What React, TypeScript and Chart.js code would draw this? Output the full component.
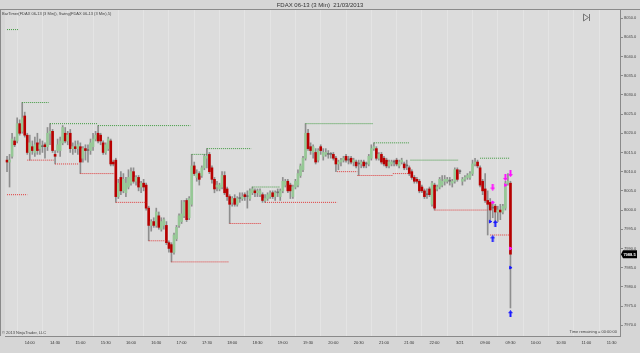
import React, { useEffect, useRef } from "react";
import { Chart, registerables } from "chart.js";
Chart.register(...registerables);

// ---- candle data (3-min bars, index 0 = 13:33 on 3/20) ----
const opens = [
  8013.0, 8012.5, 8014.0, 8018.0, 8018.0, 8022.5, 8020.5, 8024.5, 8019.5, 8015.0,
  8016.5, 8015.0, 8017.5, 8016.0, 8016.5, 8017.0, 8016.5, 8020.0, 8020.5, 8014.5,
  8015.5, 8015.5, 8017.5, 8020.0, 8018.0, 8020.0, 8016.0, 8016.5, 8016.0, 8016.5,
  8013.5, 8016.0, 8015.5, 8015.5, 8016.5, 8018.5, 8020.0, 8019.5, 8017.5, 8015.0,
  8016.0, 8018.0, 8012.5, 8013.0, 8003.5, 8008.5, 8005.0, 8004.5, 8006.0, 8007.0,
  8010.0, 8007.5, 8008.5, 8006.0, 8007.0, 8006.5, 8000.5, 7996.0, 7997.0, 7996.0,
  7998.5, 7995.0, 7996.0, 7996.0, 7991.5, 7991.0, 7989.0, 7992.5, 7996.0, 7997.0,
  7998.5, 8002.5, 7998.0, 8001.5, 8011.5, 8008.5, 8009.5, 8009.0, 8011.0, 8013.5,
  8014.5, 8011.0, 8008.0, 8006.0, 8005.5, 8006.0, 8009.0, 8005.5, 8003.5, 8002.0,
  8003.0, 8001.5, 8003.0, 8003.0, 8004.0, 8003.5, 8003.0, 8004.5, 8005.0, 8004.5,
  8004.0, 8004.0, 8002.5, 8003.0, 8003.5, 8004.5, 8003.5, 8004.5, 8003.5, 8005.0,
  8006.5, 8007.5, 8006.5, 8003.5, 8006.0, 8006.5, 8009.0, 8010.5, 8013.5, 8020.0,
  8016.5, 8015.0, 8015.0, 8013.0, 8016.5, 8014.0, 8014.5, 8014.5, 8014.5, 8014.5,
  8013.5, 8012.0, 8012.5, 8013.0, 8014.0, 8013.0, 8013.5, 8012.5, 8012.5, 8012.0,
  8012.0, 8012.5, 8012.0, 8012.0, 8013.5, 8016.0, 8016.0, 8013.5, 8014.5, 8013.5,
  8013.0, 8011.5, 8012.0, 8012.5, 8013.0, 8011.5, 8012.5, 8012.0, 8011.5, 8011.0,
  8010.0, 8008.5, 8008.0, 8007.5, 8006.0, 8005.0, 8004.0, 8005.5, 8001.5, 8006.5,
  8005.5, 8006.0, 8006.5, 8007.5, 8007.5, 8007.5, 8007.0, 8007.5, 8010.5, 8010.0,
  8007.5, 8008.0, 8008.5, 8008.5, 8009.5, 8012.0, 8012.5, 8011.0, 8007.5, 8005.5,
  8002.5, 8002.0, 8000.5, 8001.0, 7999.5, 8000.0, 7999.5, 8000.5, 8007.0, 8007.0,
];
const highs = [
  8014.0, 8014.5, 8020.0, 8019.0, 8024.0, 8023.5, 8028.0, 8025.5, 8020.0, 8019.5,
  8018.0, 8019.0, 8020.0, 8018.5, 8018.0, 8017.5, 8021.5, 8022.5, 8021.0, 8015.5,
  8018.5, 8019.0, 8022.0, 8021.5, 8020.5, 8021.0, 8017.5, 8018.0, 8018.0, 8017.5,
  8016.5, 8017.0, 8017.0, 8018.5, 8020.0, 8020.5, 8022.0, 8020.0, 8018.0, 8017.5,
  8019.0, 8018.5, 8013.0, 8013.5, 8008.0, 8010.0, 8009.5, 8008.5, 8010.5, 8011.0,
  8011.0, 8009.0, 8009.0, 8007.5, 8008.0, 8007.0, 8001.0, 7997.5, 7998.0, 8000.5,
  7999.5, 7998.0, 7998.0, 7997.0, 7992.0, 7991.5, 7994.0, 7996.0, 7999.0, 8002.5,
  8002.5, 8003.0, 8003.5, 8014.5, 8012.5, 8010.5, 8010.0, 8011.5, 8014.5, 8016.0,
  8015.0, 8011.5, 8008.5, 8007.5, 8007.0, 8010.0, 8010.0, 8006.0, 8004.0, 8003.5,
  8004.0, 8003.5, 8004.5, 8004.5, 8004.5, 8005.0, 8005.5, 8006.0, 8005.5, 8005.5,
  8005.5, 8004.5, 8004.0, 8004.5, 8005.0, 8005.0, 8005.0, 8005.5, 8005.5, 8008.5,
  8008.0, 8008.0, 8007.0, 8006.5, 8008.0, 8010.5, 8012.0, 8014.0, 8022.5, 8021.0,
  8017.5, 8017.0, 8016.0, 8016.0, 8017.0, 8016.0, 8016.0, 8015.5, 8015.0, 8015.0,
  8014.0, 8013.0, 8013.5, 8014.0, 8014.5, 8014.0, 8014.0, 8013.5, 8013.0, 8013.0,
  8013.0, 8013.0, 8012.5, 8014.5, 8017.0, 8017.5, 8016.5, 8015.0, 8015.0, 8014.0,
  8013.5, 8013.0, 8013.0, 8013.0, 8013.5, 8013.0, 8013.5, 8012.5, 8013.0, 8011.5,
  8010.5, 8009.0, 8008.5, 8008.0, 8006.5, 8005.5, 8005.5, 8006.0, 8007.5, 8007.0,
  8006.5, 8008.5, 8009.0, 8009.0, 8008.5, 8008.5, 8008.0, 8011.0, 8011.0, 8010.5,
  8008.5, 8009.0, 8009.5, 8010.0, 8013.0, 8013.5, 8013.0, 8011.5, 8008.0, 8009.5,
  8005.0, 8003.0, 8002.0, 8001.5, 8001.0, 8001.5, 8001.5, 8007.5, 8009.5, 8007.5,
];
const lows = [
  8010.0, 8006.0, 8013.5, 8016.5, 8017.5, 8019.5, 8020.0, 8019.0, 8014.5, 8013.0,
  8014.5, 8014.0, 8014.5, 8014.5, 8015.0, 8013.5, 8015.5, 8017.0, 8015.0, 8012.0,
  8015.0, 8014.0, 8017.0, 8017.5, 8017.0, 8015.0, 8014.5, 8015.0, 8014.5, 8009.5,
  8012.5, 8013.0, 8012.5, 8014.5, 8015.5, 8018.0, 8017.5, 8017.0, 8014.5, 8014.5,
  8015.5, 8011.5, 8011.5, 8002.0, 8003.0, 8004.0, 8004.5, 8003.5, 8005.5, 8006.5,
  8007.0, 8006.5, 8005.0, 8004.5, 8005.0, 8000.0, 7992.0, 7994.5, 7995.5, 7995.5,
  7995.0, 7994.5, 7995.0, 7991.0, 7989.0, 7986.5, 7988.5, 7992.0, 7995.5, 7996.5,
  7998.0, 7997.0, 7997.5, 8001.0, 8009.0, 8007.5, 8006.5, 8008.5, 8010.5, 8011.0,
  8009.5, 8007.0, 8004.5, 8005.0, 8005.0, 8005.5, 8004.0, 8002.5, 7996.5, 8001.0,
  8001.0, 8001.0, 8002.0, 8002.5, 8002.5, 8000.5, 8002.5, 8004.0, 8003.5, 8003.5,
  8003.5, 8002.0, 8002.0, 8002.5, 8003.0, 8003.0, 8002.5, 8003.5, 8002.5, 8004.5,
  8006.0, 8004.5, 8003.0, 8003.0, 8005.5, 8006.0, 8008.5, 8010.0, 8013.0, 8015.5,
  8014.5, 8013.5, 8012.0, 8012.5, 8014.5, 8013.0, 8014.0, 8013.5, 8013.5, 8013.0,
  8010.0, 8010.5, 8011.5, 8012.5, 8012.5, 8012.0, 8012.0, 8011.5, 8011.0, 8009.0,
  8011.0, 8011.0, 8011.0, 8011.5, 8013.0, 8015.5, 8013.0, 8013.0, 8012.0, 8011.5,
  8011.0, 8011.0, 8011.5, 8011.5, 8011.5, 8011.0, 8012.0, 8010.5, 8010.5, 8009.0,
  8008.0, 8007.0, 8007.0, 8004.5, 8004.5, 8003.0, 8003.0, 8003.5, 8001.0, 8000.0,
  8005.0, 8005.5, 8006.0, 8006.5, 8007.0, 8006.5, 8006.0, 8007.0, 8007.5, 8009.5,
  8006.5, 8007.5, 8008.0, 8008.0, 8009.0, 8011.5, 8011.0, 8006.0, 8004.0, 8002.0,
  7993.5, 7997.5, 7998.0, 7996.5, 7997.0, 7997.5, 7999.0, 8000.0, 8006.5, 7974.5,
];
const closes = [
  8012.5, 8013.0, 8018.5, 8017.0, 8022.5, 8020.0, 8024.0, 8019.5, 8015.0, 8017.5,
  8015.5, 8017.0, 8015.5, 8017.0, 8016.5, 8016.5, 8020.0, 8020.5, 8015.5, 8014.0,
  8017.0, 8018.0, 8021.5, 8018.0, 8019.5, 8016.0, 8016.5, 8016.0, 8017.0, 8012.5,
  8016.0, 8015.5, 8015.5, 8017.5, 8018.5, 8019.5, 8018.0, 8018.0, 8015.0, 8017.0,
  8018.5, 8012.0, 8012.0, 8003.5, 8007.0, 8005.0, 8008.0, 8007.0, 8008.5, 8010.0,
  8007.5, 8008.5, 8006.0, 8007.0, 8006.0, 8000.5, 7996.0, 7997.0, 7996.0, 7999.5,
  7995.5, 7997.0, 7997.5, 7991.5, 7990.0, 7989.0, 7993.5, 7995.5, 7998.5, 7999.0,
  8002.0, 7997.5, 8003.0, 8011.5, 8009.5, 8009.5, 8008.0, 8011.0, 8014.0, 8014.0,
  8010.0, 8008.0, 8005.5, 8006.5, 8006.5, 8009.0, 8004.5, 8003.5, 8001.5, 8003.0,
  8001.5, 8003.0, 8003.0, 8003.5, 8003.5, 8003.5, 8005.0, 8005.5, 8004.5, 8005.0,
  8005.0, 8002.5, 8003.0, 8004.0, 8004.5, 8003.5, 8004.5, 8004.5, 8005.0, 8007.5,
  8007.5, 8005.0, 8005.0, 8006.0, 8007.5, 8009.5, 8011.5, 8013.5, 8020.0, 8016.0,
  8015.5, 8016.5, 8012.5, 8015.5, 8015.5, 8015.0, 8015.0, 8014.5, 8014.5, 8013.5,
  8012.0, 8012.5, 8013.0, 8013.5, 8013.0, 8013.0, 8012.5, 8013.0, 8011.5, 8012.0,
  8012.5, 8011.5, 8012.0, 8014.0, 8016.0, 8016.5, 8013.5, 8014.5, 8012.5, 8012.0,
  8011.5, 8012.5, 8012.5, 8012.5, 8012.0, 8012.5, 8013.0, 8011.0, 8011.5, 8009.5,
  8008.5, 8007.5, 8007.5, 8005.0, 8005.0, 8003.5, 8004.0, 8004.0, 8007.0, 8000.5,
  8006.0, 8008.0, 8007.5, 8008.0, 8008.0, 8007.5, 8007.5, 8010.5, 8008.0, 8010.0,
  8008.0, 8008.5, 8009.0, 8009.5, 8012.0, 8012.5, 8011.5, 8006.5, 8005.0, 8002.5,
  8001.5, 8000.0, 8000.5, 7999.5, 8000.0, 7999.5, 8001.0, 8007.0, 8007.5, 7988.5,
];

// ---- time axis labels (every 10 bars) ----
const tickBars = [9, 19, 29, 39, 49, 59, 69, 79, 89, 99, 109, 119, 129, 139, 149, 159, 169, 179, 189, 199, 209, 219, 229, 239];
const tickLabels = ["14:00", "14:30", "15:00", "15:30", "16:00", "16:30", "17:00", "17:30", "18:00", "18:30", "19:00", "19:30", "20:00", "20:30", "21:00", "21:30", "22:00", "3/21", "09:00", "09:30", "10:00", "10:30", "11:00", "11:30"];

// ---- swing levels (bar index start/end, price) ----
const highStart = [0, 6, 17, 36, 73, 79, 97, 118, 145, 159.5, 187];
const highEnd = [4.5, 16.5, 36, 72.5, 79, 96.5, 108, 144.5, 159, 178.5, 198.5];
const highPrice = [8047.0, 8028.0, 8022.5, 8022.0, 8014.5, 8016.0, 8006.0, 8022.5, 8017.5, 8013.0, 8013.5];
const lowStart = [0, 8, 19, 29, 43, 56, 65, 88, 102, 130.5, 138.5, 152.5, 169, 191];
const lowEnd = [8, 18.5, 28.5, 42.5, 55, 63, 87.5, 100.5, 130.5, 138.5, 152.5, 159, 190, 198.5];
const lowPrice = [8004.0, 8013.0, 8012.0, 8009.5, 8002.0, 7992.0, 7986.5, 7996.5, 8002.0, 8010.0, 8009.0, 8009.5, 8000.0, 7993.5];

// ---- signal markers ----
const downArrowBars = [192, 197, 199];
const downArrowPrices = [8006.0, 8008.5, 8009.5];
const upArrowBars = [193, 192, 199];
const upArrowPrices = [7996.5, 7992.5, 7973.0];
const magentaTriBars = [192, 197, 199];
const magentaTriPrices = [8002.0, 8006.5, 7990.0];
const blueTriBars = [191, 199];
const blueTriPrices = [7997.0, 7985.0];

const UP = "#96c896";
const DOWN = "#b80000";
const DOJI = "#707070";

function makeArrow(color: string, up: boolean): HTMLCanvasElement {
  const c = document.createElement("canvas");
  c.width = 5;
  c.height = 7;
  const g = c.getContext("2d")!;
  g.fillStyle = color;
  g.beginPath();
  if (up) {
    g.moveTo(2.5, 0); g.lineTo(5, 3); g.lineTo(3.5, 3); g.lineTo(3.5, 7); g.lineTo(1.5, 7); g.lineTo(1.5, 3); g.lineTo(0, 3);
  } else {
    g.moveTo(2.5, 7); g.lineTo(5, 4); g.lineTo(3.5, 4); g.lineTo(3.5, 0); g.lineTo(1.5, 0); g.lineTo(1.5, 4); g.lineTo(0, 4);
  }
  g.closePath();
  g.fill();
  return c;
}

function segData(s: number[], e: number[], p: number[]) {
  const out: { x: number; y: number | null }[] = [];
  for (let i = 0; i < s.length; i++) {
    out.push({ x: s[i], y: p[i] }, { x: e[i], y: p[i] }, { x: e[i] + 0.01, y: null });
  }
  return out;
}

const FONT = "'Liberation Sans', Arial, sans-serif";

export default function App() {
  const ref = useRef<HTMLCanvasElement | null>(null);
  useEffect(() => {
    document.body.style.margin = "0";
    const canvas = ref.current!;
    const bars = opens.map((_, i) => i);
    const bodyColors = bars.map((i) => (closes[i] > opens[i] ? UP : closes[i] < opens[i] ? DOWN : DOJI));

    const frame = {
      id: "frame",
      beforeDraw(chart: any) {
        const { ctx, chartArea: a, width, height } = chart;
        ctx.save();
        ctx.fillStyle = "#d6d6d6";
        ctx.fillRect(0, 0, width, height);
        ctx.fillStyle = "#dcdcdc";
        ctx.fillRect(a.left, a.top, a.right - a.left, a.bottom - a.top);
        ctx.restore();
      },
      afterDraw(chart: any) {
        const { ctx, chartArea: a, width } = chart;
        const y = chart.scales.y;
        ctx.save();
        ctx.strokeStyle = "#8a8a8a";
        ctx.lineWidth = 1;
        ctx.beginPath();
        ctx.moveTo(0, a.top - 0.5); ctx.lineTo(width, a.top - 0.5);
        ctx.moveTo(0.5, a.top); ctx.lineTo(0.5, a.bottom);
        ctx.stroke();
        // title
        ctx.fillStyle = "#333";
        ctx.font = `6px ${FONT}`;
        ctx.textAlign = "center";
        ctx.textBaseline = "middle";
        ctx.fillText("FDAX 06-13 (3 Min)  21/03/2013", width / 2, 5);
        // indicator caption
        ctx.textAlign = "left";
        ctx.font = `4px ${FONT}`;
        ctx.fillStyle = "#444";
        ctx.fillText("BarTimer(FDAX 06-13 (3 Min)), Swing(FDAX 06-13 (3 Min),5)", 2, 14);
        ctx.fillText("\u00a9 2013 NinjaTrader, LLC", 2, a.bottom - 3);
        ctx.textAlign = "right";
        ctx.fillText("Time remaining = 00:00:00", a.right - 3, a.bottom - 4);
        // collapse icon
        ctx.strokeStyle = "#777";
        ctx.beginPath();
        ctx.moveTo(583.5, 14); ctx.lineTo(588.5, 17.5); ctx.lineTo(583.5, 21); ctx.closePath();
        ctx.moveTo(589.5, 14); ctx.lineTo(589.5, 21);
        ctx.stroke();
        // last price tag
        const last = closes[closes.length - 1];
        const py = y.getPixelForValue(last);
        ctx.fillStyle = "#000";
        ctx.beginPath();
        ctx.moveTo(a.right + 1, py);
        ctx.lineTo(a.right + 3, py - 4);
        ctx.lineTo(637, py - 4);
        ctx.lineTo(637, py + 4);
        ctx.lineTo(a.right + 3, py + 4);
        ctx.closePath();
        ctx.fill();
        ctx.fillStyle = "#fff";
        ctx.font = `bold 4px ${FONT}`;
        ctx.textAlign = "center";
        ctx.fillText(last.toFixed(1), 629.5, py + 0.5);
        ctx.restore();
      },
    };

    const chart = new Chart(canvas, {
      type: "bar",
      data: {
        datasets: [
          {
            type: "bar",
            label: "wicks",
            data: bars.map((i) => ({ x: i, y: [lows[i], highs[i]] })) as any,
            backgroundColor: "#8e8e8e",
            barThickness: 1,
            grouped: false,
            order: 5,
          } as any,
          {
            type: "bar",
            label: "bodies",
            data: bars.map((i) => ({ x: i, y: [opens[i], closes[i]] })) as any,
            backgroundColor: bodyColors,
            barThickness: 2,
            minBarLength: 1,
            grouped: false,
            order: 4,
          } as any,
          {
            type: "line",
            label: "swing high",
            data: segData(highStart, highEnd, highPrice) as any,
            borderColor: "#3f9a3f",
            borderWidth: 1,
            borderDash: [1, 1],
            pointRadius: 0,
            spanGaps: false,
            order: 3,
          },
          {
            type: "line",
            label: "swing low",
            data: segData(lowStart, lowEnd, lowPrice) as any,
            borderColor: "#e03a3a",
            borderWidth: 1,
            borderDash: [1, 1],
            pointRadius: 0,
            spanGaps: false,
            order: 3,
          },
          {
            type: "line",
            label: "down arrows",
            data: downArrowBars.map((b, i) => ({ x: b, y: downArrowPrices[i] })) as any,
            showLine: false,
            pointStyle: makeArrow("#ff10ff", false) as any,
            pointRadius: 3,
            order: 1,
          },
          {
            type: "line",
            label: "up arrows",
            data: upArrowBars.map((b, i) => ({ x: b, y: upArrowPrices[i] })) as any,
            showLine: false,
            pointStyle: makeArrow("#1a1aff", true) as any,
            pointRadius: 3,
            order: 1,
          },
          {
            type: "line",
            label: "magenta tri",
            data: magentaTriBars.map((b, i) => ({ x: b, y: magentaTriPrices[i] })) as any,
            showLine: false,
            pointStyle: "triangle",
            rotation: 90,
            pointRadius: 1.6,
            pointBackgroundColor: "#ff10ff",
            pointBorderColor: "#ff10ff",
            order: 1,
          },
          {
            type: "line",
            label: "blue tri",
            data: blueTriBars.map((b, i) => ({ x: b, y: blueTriPrices[i] })) as any,
            showLine: false,
            pointStyle: "triangle",
            rotation: 90,
            pointRadius: 1.6,
            pointBackgroundColor: "#1a1aff",
            pointBorderColor: "#1a1aff",
            order: 1,
          },
        ],
      },
      options: {
        responsive: false,
        devicePixelRatio: 1,
        animation: false,
        events: [],
        layout: { padding: { top: 10, left: 0, right: 0, bottom: 0 } },
        plugins: { legend: { display: false }, tooltip: { enabled: false }, title: { display: false } },
        scales: {
          x: {
            type: "linear",
            min: -0.8,
            max: 242.3,
            offset: false,
            afterBuildTicks: (scale: any) => {
              scale.ticks = tickBars.map((v) => ({ value: v }));
            },
            afterFit: (scale: any) => {
              scale.height = 17;
            },
            ticks: {
              autoSkip: false,
              maxRotation: 0,
              padding: 4,
              color: "#333",
              font: { size: 4, family: FONT },
              callback: (v: any) => {
                const k = tickBars.indexOf(Number(v));
                return k >= 0 ? tickLabels[k] : "";
              },
            },
            grid: { drawOnChartArea: true, drawTicks: false, color: "#e4e4e4", lineWidth: 1 },
            border: { display: true, color: "#8a8a8a" },
          },
          y: {
            type: "linear",
            position: "right",
            min: 7967.2,
            max: 8052.1,
            afterFit: (scale: any) => {
              scale.width = 20;
            },
            ticks: {
              stepSize: 5,
              includeBounds: false,
              padding: 1,
              color: "#444",
              font: { size: 4, family: FONT },
              callback: (v: any) => Number(v).toFixed(1),
            },
            grid: { drawOnChartArea: false, drawTicks: true, tickLength: 3, color: "#8a8a8a" },
            border: { display: true, color: "#8a8a8a" },
          },
        },
      },
      plugins: [frame],
    } as any);
    return () => chart.destroy();
  }, []);
  return (
    <div style={{ width: 640, height: 353 }}>
      <canvas ref={ref} width={640} height={353} />
    </div>
  );
}
